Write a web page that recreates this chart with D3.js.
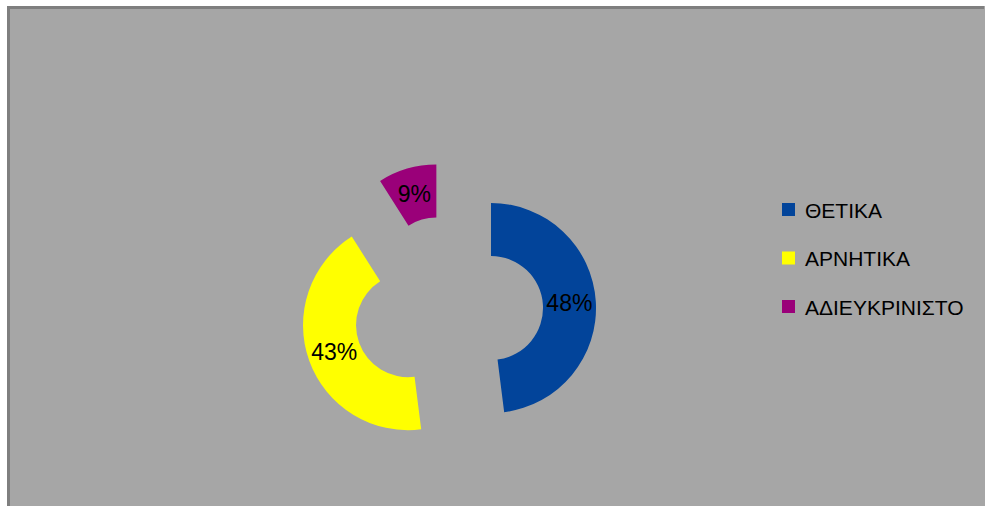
<!DOCTYPE html>
<html>
<head>
<meta charset="utf-8">
<script src="https://cdn.jsdelivr.net/npm/d3@7"></script>
<style>
  html, body { margin: 0; padding: 0; background: #ffffff; }
  svg { display: block; }
  text { font-family: "Liberation Sans", Arial, sans-serif; }
</style>
</head>
<body>
<svg id="chart" width="985" height="506"></svg>
<script>
// Survey answers
const categories = ["ΘΕΤΙΚΑ", "ΑΡΝΗΤΙΚΑ", "ΑΔΙΕΥΚΡΙΝΙΣΤΟ"];
const shares = [48, 43, 9];
const labels = ["48%", "43%", "9%"];
const colors = ["#02449a", "#ffff00", "#9a0079"];

const svg = d3.select("#chart");

// chart area: grey panel with a darker top/left edge
svg.append("rect")
  .attr("x", 7).attr("y", 6).attr("width", 985 - 7).attr("height", 506 - 6)
  .attr("fill", "#a6a6a6");
svg.append("path")
  .attr("d", "M8.5,506 V7.5 H984")
  .attr("fill", "none").attr("stroke", "#7f7f7f").attr("stroke-width", 3);

// exploded doughnut
const cx = 448.3, cy = 310.7;
const inner = 52, outer = 105, explode = 42.8;

const pie = d3.pie().sort(null).value(d => d.v).startAngle(0).endAngle(2 * Math.PI);
const arcs = pie(shares.map((v, i) => ({ v, i })));
const arc = d3.arc().innerRadius(inner).outerRadius(outer);

const g = svg.append("g").attr("transform", `translate(${cx},${cy})`);

const slice = g.selectAll("g.slice").data(arcs).join("g")
  .attr("class", "slice")
  .attr("transform", d => {
    const mid = (d.startAngle + d.endAngle) / 2;
    return `translate(${explode * Math.sin(mid)},${-explode * Math.cos(mid)})`;
  });

slice.append("path")
  .attr("d", arc)
  .attr("fill", d => colors[d.data.i]);

slice.append("text")
  .attr("transform", d => `translate(${arc.centroid(d)})`)
  .attr("text-anchor", "middle")
  .attr("dominant-baseline", "central")
  .attr("font-size", 23)
  .attr("fill", "#000000")
  .text(d => labels[d.data.i]);

// legend
const legend = svg.append("g").attr("transform", "translate(782,210)");
const item = legend.selectAll("g").data(categories).join("g")
  .attr("transform", (d, i) => `translate(0,${i * 48.5})`);
item.append("rect")
  .attr("x", 0).attr("y", -7).attr("width", 13).attr("height", 13)
  .attr("fill", (d, i) => colors[i]);
item.append("text")
  .attr("x", 23).attr("y", 0)
  .attr("dominant-baseline", "central")
  .attr("font-size", 21)
  .attr("fill", "#000000")
  .text(d => d);
</script>
</body>
</html>
